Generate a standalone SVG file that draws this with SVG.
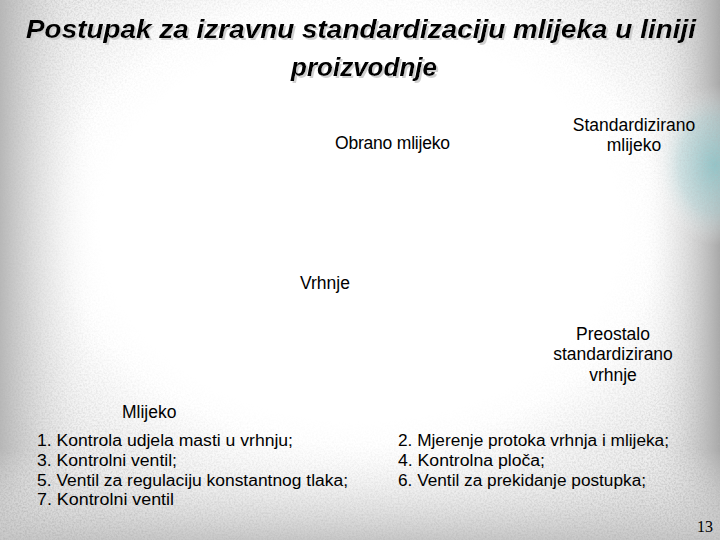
<svg xmlns="http://www.w3.org/2000/svg" width="720" height="540" viewBox="0 0 720 540">
  <defs>
    <radialGradient id="bg" cx="0.5" cy="0.42" r="0.75" fx="0.5" fy="0.4">
      <stop offset="0" stop-color="#ffffff"/>
      <stop offset="0.55" stop-color="#ffffff"/>
      <stop offset="0.78" stop-color="#ececec"/>
      <stop offset="1" stop-color="#c4c4c4"/>
    </radialGradient>
    <radialGradient id="teal" cx="0.5" cy="0.5" r="0.5">
      <stop offset="0" stop-color="#8ec8cc" stop-opacity="0.85"/>
      <stop offset="0.6" stop-color="#b8dde0" stop-opacity="0.5"/>
      <stop offset="1" stop-color="#ffffff" stop-opacity="0"/>
    </radialGradient>
    <linearGradient id="leftEdge" x1="0" y1="0" x2="1" y2="0">
      <stop offset="0" stop-color="#b8b8b8"/>
      <stop offset="1" stop-color="#ffffff" stop-opacity="0"/>
    </linearGradient>
    <linearGradient id="rightEdge" x1="1" y1="0" x2="0" y2="0">
      <stop offset="0" stop-color="#a8a8a8"/>
      <stop offset="1" stop-color="#ffffff" stop-opacity="0"/>
    </linearGradient>
    <linearGradient id="bottomEdge" x1="0" y1="1" x2="0" y2="0">
      <stop offset="0" stop-color="#c8c8c8"/>
      <stop offset="1" stop-color="#ffffff" stop-opacity="0"/>
    </linearGradient>
    <filter id="grain" x="0" y="0" width="100%" height="100%">
      <feTurbulence type="fractalNoise" baseFrequency="0.55" numOctaves="2" seed="3" result="n"/>
      <feColorMatrix type="matrix" values="0 0 0 0 0.45  0 0 0 0 0.45  0 0 0 0 0.45  0 0 0 -1.5 0.95"/>
    </filter>
    <radialGradient id="maskGrad" cx="0.5" cy="0.42" r="0.72">
      <stop offset="0" stop-color="#000"/>
      <stop offset="0.5" stop-color="#000"/>
      <stop offset="1" stop-color="#fff"/>
    </radialGradient>
    <mask id="edgeMask">
      <rect width="720" height="540" fill="url(#maskGrad)"/>
    </mask>
    <filter id="shadow" x="-5%" y="-20%" width="110%" height="140%">
      <feOffset dx="2" dy="2" in="SourceAlpha" result="o"/>
      <feColorMatrix in="o" type="matrix" values="0 0 0 0 0.6  0 0 0 0 0.6  0 0 0 0 0.6  0 0 0 0.9 0" result="s"/>
      <feMerge><feMergeNode in="s"/><feMergeNode in="SourceGraphic"/></feMerge>
    </filter>
  </defs>
  <style>
    .t { font-family: "Liberation Sans", Arial, sans-serif; font-size: 17.5px; fill: #000; }
    .l { font-family: "Liberation Sans", Arial, sans-serif; font-size: 16px; fill: #000; }
    .c { text-anchor: middle; }
    .title { font-family: "Liberation Sans", Arial, sans-serif; font-size: 26px; font-weight: bold; font-style: italic; fill: #000; text-anchor: middle; }
    .num { font-family: "Liberation Serif", serif; font-size: 16px; fill: #000; }
  </style>

  <g id="background">
    <rect width="720" height="540" fill="url(#bg)"/>
    <rect x="0" y="0" width="100" height="540" fill="url(#leftEdge)"/>
    <rect x="640" y="0" width="80" height="540" fill="url(#rightEdge)"/>
    <rect x="0" y="450" width="720" height="90" fill="url(#bottomEdge)"/>
    <ellipse cx="715" cy="165" rx="60" ry="80" fill="url(#teal)"/>
    <rect width="720" height="540" filter="url(#grain)" mask="url(#edgeMask)"/>
  </g>

  <g id="title" filter="url(#shadow)">
    <text class="title" x="361" y="38" textLength="670" lengthAdjust="spacingAndGlyphs">Postupak za izravnu standardizaciju mlijeka u liniji</text>
    <text class="title" x="364" y="76">proizvodnje</text>
  </g>

  <g id="node-obrano">
    <text class="t" x="335" y="149" textLength="115">Obrano mlijeko</text>
  </g>
  <g id="node-standardizirano">
    <text class="t c" x="634" y="131">Standardizirano</text>
    <text class="t c" x="634" y="151">mlijeko</text>
  </g>
  <g id="node-vrhnje">
    <text class="t" x="300" y="289">Vrhnje</text>
  </g>
  <g id="node-preostalo">
    <text class="t c" x="613" y="340">Preostalo</text>
    <text class="t c" x="613" y="360">standardizirano</text>
    <text class="t c" x="613" y="381">vrhnje</text>
  </g>
  <g id="node-mlijeko">
    <text class="t" x="122" y="418">Mlijeko</text>
  </g>

  <g id="legend">
    <text class="l" x="37" y="446" textLength="256" lengthAdjust="spacingAndGlyphs">1. Kontrola udjela masti u vrhnju;</text>
    <text class="l" x="37" y="466" textLength="140" lengthAdjust="spacingAndGlyphs">3. Kontrolni ventil;</text>
    <text class="l" x="37" y="486" textLength="311" lengthAdjust="spacingAndGlyphs">5. Ventil za regulaciju konstantnog tlaka;</text>
    <text class="l" x="37" y="505" textLength="137" lengthAdjust="spacingAndGlyphs">7. Kontrolni ventil</text>
    <text class="l" x="398" y="446" textLength="271" lengthAdjust="spacingAndGlyphs">2. Mjerenje protoka vrhnja i mlijeka;</text>
    <text class="l" x="398" y="466" textLength="147" lengthAdjust="spacingAndGlyphs">4. Kontrolna ploča;</text>
    <text class="l" x="398" y="486" textLength="248" lengthAdjust="spacingAndGlyphs">6. Ventil za prekidanje postupka;</text>
  </g>

  <g id="connectors"></g>

  <g id="page-number">
    <text class="num" x="697" y="532">13</text>
  </g>
</svg>
